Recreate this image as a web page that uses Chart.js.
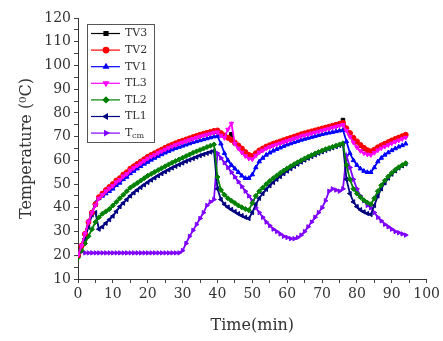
<!DOCTYPE html>
<html>
<head>
<meta charset="utf-8">
<script src="https://cdn.jsdelivr.net/npm/chart.js@4.4.0/dist/chart.umd.min.js"></script>
<style>
  html, body { margin: 0; padding: 0; background: #fff; }
  #wrap { width: 443px; height: 341px; }
</style>
</head>
<body>
<div id="wrap"><canvas id="tempChart" width="443" height="341"></canvas></div>
<script>
// time axis (min)
const timeMin = [0,1,2,3,4,5,6,7,8,9,10,11,12,13,14,15,16,17,18,19,20,21,22,23,24,25,26,27,28,29,
  30,31,32,33,34,35,36,37,38,39,40,41,42,43,44,45,46,47,48,49,50,51,52,53,54,55,56,57,58,59,
  60,61,62,63,64,65,66,67,68,69,70,71,72,73,74,75,76,77,78,79,80,81,82,83,84,85,86,87,88,89,
  90,91,92,93,94];

// temperatures (degC)
const tv3 = [20,24,29,34,38,41.3,44.2,45.8,47.2,48.5,49.7,51.2,52.2,53.7,54.7,56.2,57.2,58.2,59.2,60.2,
  61.2,62,62.7,63.5,64.2,65,65.7,66.3,66.9,67.5,68,68.5,69,69.5,70,70.5,70.9,71.3,71.7,72.1,
  72.3,71.2,70.3,69.8,71,67.2,66,64.7,63.2,62,61.5,62.7,63.9,64.7,65.5,66.1,66.7,67.2,67.7,68.2,
  68.7,69.2,69.7,70.2,70.7,71.1,71.5,71.9,72.3,72.7,73.1,73.5,73.9,74.3,74.7,75.1,77,73.2,71.2,69.2,
  67.7,66.2,65,64,63.5,64.2,65.2,66,66.7,67.4,68.1,68.7,69.3,69.9,70.5];
const tv2 = [20,24,29,34,38,41.5,44.5,46,47.5,48.8,50,51.5,52.5,54,55,56.5,57.5,58.5,59.5,60.5,
  61.5,62.3,63,63.8,64.5,65.3,66,66.6,67.2,67.8,68.3,68.8,69.3,69.8,70.3,70.8,71.2,71.6,72,72.4,
  72.6,71.5,70.5,69.5,68.6,67.5,66.3,65,63.5,62.3,61.8,63,64.2,65,65.8,66.4,67,67.5,68,68.5,
  69,69.5,70,70.5,71,71.4,71.8,72.2,72.6,73,73.4,73.8,74.2,74.6,75,75.4,75.8,73.5,71.5,69.5,
  68,66.5,65.3,64.3,63.8,64.5,65.5,66.3,67,67.7,68.4,69,69.6,70.2,70.8];
const tv1 = [20,24,29,34,38,42,44,45,46,47,48,49.5,50.5,52,53,54.5,55.5,56.5,57.5,58.5,
  59.3,60.2,61,61.8,62.5,63.2,63.9,64.5,65.1,65.6,66.1,66.6,67.1,67.6,68,68.4,68.8,69.2,69.6,70,
  70.2,67,63,60,58,56.5,55,53.5,52.5,52.5,54,57,59.5,61,62.3,63.2,64,64.7,65.3,66,
  66.6,67.1,67.6,68.1,68.6,69,69.4,69.8,70.2,70.6,71,71.3,71.6,71.9,72.2,72.5,72.8,68,63,60,
  58,56.5,55.5,55,55,57,59.5,61,62.3,63.3,64.2,65,65.7,66.3,67];
const tl3 = [20,24,29,34,38,41,44,45.5,47,48.2,49.3,50.8,51.8,53.3,54.3,55.8,56.8,57.8,58.8,59.8,
  60.8,61.6,62.3,63.1,63.8,64.6,65.3,65.9,66.5,67.1,67.6,68.1,68.6,69.1,69.6,70.1,70.5,70.9,71.3,71.7,
  71.9,70.5,69.5,73,75.5,67,65,63.3,61.8,60.8,60.5,62,63.4,64.2,65,65.6,66.2,66.7,67.2,67.7,
  68.2,68.7,69.2,69.7,70.2,70.6,71,71.4,71.8,72.2,72.6,73,73.4,73.8,74.2,74.6,75,72.5,70,67.5,
  65.5,64,63,62.5,62.3,63.2,64.3,65.1,65.8,66.5,67.2,67.8,68.4,69,69.6];
const tl2 = [19,22,25,28,31,34,36,37.5,38.5,39.5,41,42.5,44,45.5,47,48.5,49.5,50.5,51.5,52.5,
  53.5,54.3,55.1,55.9,56.7,57.5,58.3,59,59.7,60.4,61.1,61.8,62.5,63.2,63.8,64.4,65,65.6,66.2,66.7,
  53,47.5,45.5,44,43,42,41,40.2,39.5,39,42,45,47,48.5,50,51.3,52.5,53.6,54.7,55.7,
  56.6,57.5,58.4,59.2,60,60.8,61.5,62.2,62.9,63.5,64.1,64.7,65.2,65.7,66.2,66.7,67.2,58,52,48,
  46,44.5,43.2,42.2,41.5,44,47,49.5,51.5,53.2,54.7,56,57.1,58,58.8];
const tl1 = [20,23,27,32,37,38,31,32,33.5,35,36.5,38.5,40.5,42,43.5,45,46.3,47.5,48.6,49.7,
  50.7,51.7,52.6,53.5,54.4,55.2,56,56.8,57.5,58.2,58.9,59.6,60.2,60.8,61.4,62,62.5,63,63.5,64,
  48,43.5,41.5,40.3,39.3,38.4,37.5,36.7,36,35.5,38,41.5,44,46,47.8,49.3,50.7,52,53.2,54.4,
  55.5,56.5,57.5,58.4,59.3,60.1,60.9,61.6,62.3,63,63.6,64.2,64.8,65.3,65.8,66.3,66.7,52,46,42.5,
  40.5,39.2,38.3,37.6,37.2,41,45,48,50.5,52.5,54.2,55.6,56.8,57.7,58.5];
const tcm = [20,21.5,21,21,21,21,21,21,21,21,21,21,21,21,21,21,21,21,21,21,
  21,21,21,21,21,21,21,21,21,21,22,25,28,30.5,33,35.5,38,41,42.5,43.5,
  63,61,59,57,55,53,51,49,47,45,43,40,38,36,34,32.5,31,30,29,28,
  27.5,27,27,27.5,28.5,30,32,34,36,38,40,43,47,48,47.5,47,48,62,57,52,
  48,45,43,41,40,38,36,34.5,33,32,31,30,29.5,29,28.5];

const names = ['TV3', 'TV2', 'TV1', 'TL3', 'TL2', 'TL1', 'Tcm'];
const seriesList = [tv3, tv2, tv1, tl3, tl2, tl1, tcm];
const colors = ['#000000', '#ff0000', '#0000ff', '#ff00ff', '#008000', '#000080', '#8000ff'];
const shapes = ['rect', 'circle', 'triangle', 'triangle', 'rectRot', 'triangle', 'triangle'];
const rotations = [0, 0, 0, 180, 0, 270, 90];
const drawOrder = [6, 1, 2, 0, 3, 4, 5];

const datasets = names.map(function(name, i) {
  return {
    label: name,
    data: seriesList[i].map(function(v, k) { return {x: timeMin[k], y: v}; }),
    borderColor: colors[i],
    backgroundColor: colors[i],
    borderWidth: 1.8,
    pointStyle: shapes[i],
    pointRotation: rotations[i],
    pointRadius: 2.5,
    pointBorderWidth: 1,
    tension: 0,
    order: drawOrder[i]
  };
});

// boxed legend inside the plot, line + marker like the original
const boxedLegend = {
  id: 'boxedLegend',
  afterDraw: function(chart) {
    const ctx = chart.ctx;
    const x0 = 87, y0 = 24, w = 67, h = 118, rowH = 16.6;
    ctx.save();
    ctx.strokeStyle = '#555';
    ctx.lineWidth = 1;
    ctx.strokeRect(x0 + 0.5, y0 + 0.5, w, h);
    names.forEach(function(name, i) {
      const y = y0 + 9.5 + i * rowH;
      ctx.strokeStyle = colors[i];
      ctx.fillStyle = colors[i];
      ctx.lineWidth = 1.2;
      ctx.beginPath();
      ctx.moveTo(x0 + 4, y);
      ctx.lineTo(x0 + 33, y);
      ctx.stroke();
      Chart.helpers.drawPoint(ctx, {pointStyle: shapes[i], rotation: rotations[i], radius: 2.8, borderWidth: 1}, x0 + 19, y);
      ctx.fillStyle = '#333';
      ctx.textBaseline = 'middle';
      ctx.font = '11px "DejaVu Serif"';
      if (name === 'Tcm') {
        ctx.fillText('T', x0 + 38, y);
        ctx.font = '8px "DejaVu Serif"';
        ctx.fillText('cm', x0 + 45, y + 3);
      } else {
        ctx.fillText(name, x0 + 38, y);
      }
    });
    ctx.restore();
  }
};

const ctx = document.getElementById('tempChart').getContext('2d');
const tempChart = new Chart(ctx, {
  type: 'line',
  data: { datasets: datasets },
  options: {
    responsive: false,
    animation: false,
    layout: { padding: { top: 18, right: 14, left: 0, bottom: 0 } },
    plugins: {
      legend: { display: false },
      tooltip: { enabled: false }
    },
    scales: {
      x: {
        type: 'linear',
        min: 0,
        max: 100,
        afterFit: function(scale) { scale.height = 62; },
        ticks: {
          stepSize: 5,
          autoSkip: false,
          maxRotation: 0,
          padding: 3,
          color: '#333',
          font: { family: 'DejaVu Serif', size: 14 },
          callback: function(v) { return v % 10 === 0 ? v : ''; }
        },
        grid: { drawOnChartArea: false, tickLength: 4, color: '#444' },
        border: { color: '#333', width: 1 },
        title: {
          display: true,
          text: 'Time(min)',
          color: '#333',
          font: { family: 'DejaVu Serif', size: 16 },
          padding: { top: 0, bottom: 6 }
        }
      },
      y: {
        min: 10,
        max: 120,
        afterFit: function(scale) { scale.width = 78; },
        ticks: {
          stepSize: 5,
          autoSkip: false,
          padding: 3,
          color: '#333',
          font: { family: 'DejaVu Serif', size: 14 },
          callback: function(v) { return v % 10 === 0 ? v : ''; }
        },
        grid: { drawOnChartArea: false, tickLength: 4, color: '#444' },
        border: { color: '#333', width: 1 },
        title: {
          display: true,
          text: 'Temperature (\u2070C)',
          color: '#333',
          font: { family: 'DejaVu Serif', size: 16 },
          padding: { top: 17, bottom: 0 }
        }
      }
    }
  },
  plugins: [boxedLegend]
});
</script>
</body>
</html>
